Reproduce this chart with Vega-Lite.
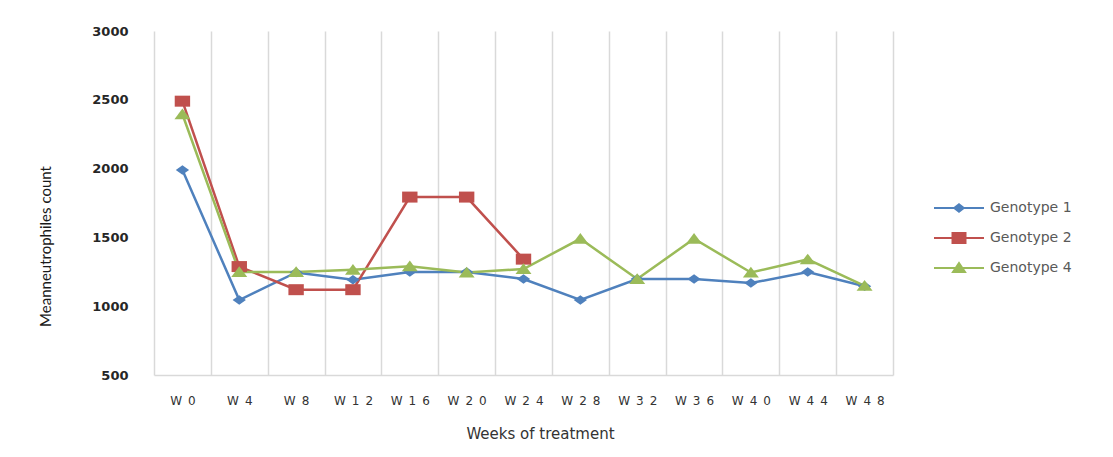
{
  "$schema": "https://vega.github.io/schema/vega-lite/v6.json",
  "width": 739,
  "height": 344,
  "autosize": {"type": "none"},
  "padding": {"left": 154, "top": 31, "right": 220, "bottom": 82},
  "background": "#ffffff",
  "config": {
    "view": {"stroke": null},
    "font": "DejaVu Sans"
  },
  "data": {
    "values": [
      {"week": "W0", "genotype": "Genotype 1", "count": 1990},
      {"week": "W4", "genotype": "Genotype 1", "count": 1045},
      {"week": "W8", "genotype": "Genotype 1", "count": 1245},
      {"week": "W12", "genotype": "Genotype 1", "count": 1192},
      {"week": "W16", "genotype": "Genotype 1", "count": 1248},
      {"week": "W20", "genotype": "Genotype 1", "count": 1248},
      {"week": "W24", "genotype": "Genotype 1", "count": 1198},
      {"week": "W28", "genotype": "Genotype 1", "count": 1045},
      {"week": "W32", "genotype": "Genotype 1", "count": 1198},
      {"week": "W36", "genotype": "Genotype 1", "count": 1198},
      {"week": "W40", "genotype": "Genotype 1", "count": 1168},
      {"week": "W44", "genotype": "Genotype 1", "count": 1248},
      {"week": "W48", "genotype": "Genotype 1", "count": 1145},
      {"week": "W0", "genotype": "Genotype 2", "count": 2490},
      {"week": "W4", "genotype": "Genotype 2", "count": 1288},
      {"week": "W8", "genotype": "Genotype 2", "count": 1120},
      {"week": "W12", "genotype": "Genotype 2", "count": 1120},
      {"week": "W16", "genotype": "Genotype 2", "count": 1793},
      {"week": "W20", "genotype": "Genotype 2", "count": 1793},
      {"week": "W24", "genotype": "Genotype 2", "count": 1342},
      {"week": "W0", "genotype": "Genotype 4", "count": 2395},
      {"week": "W4", "genotype": "Genotype 4", "count": 1248},
      {"week": "W8", "genotype": "Genotype 4", "count": 1248},
      {"week": "W12", "genotype": "Genotype 4", "count": 1265},
      {"week": "W16", "genotype": "Genotype 4", "count": 1290},
      {"week": "W20", "genotype": "Genotype 4", "count": 1245},
      {"week": "W24", "genotype": "Genotype 4", "count": 1270},
      {"week": "W28", "genotype": "Genotype 4", "count": 1490},
      {"week": "W32", "genotype": "Genotype 4", "count": 1198},
      {"week": "W36", "genotype": "Genotype 4", "count": 1490},
      {"week": "W40", "genotype": "Genotype 4", "count": 1245},
      {"week": "W44", "genotype": "Genotype 4", "count": 1340},
      {"week": "W48", "genotype": "Genotype 4", "count": 1148}
    ]
  },
  "encoding": {
    "x": {
      "field": "week",
      "type": "nominal",
      "sort": ["W0","W4","W8","W12","W16","W20","W24","W28","W32","W36","W40","W44","W48"],
      "scale": {"type": "band", "paddingInner": 0, "paddingOuter": 0},
      "axis": {
        "title": "Weeks of treatment",
        "labelAngle": 0,
        "tickBand": "extent",
        "ticks": false,
        "grid": true,
        "gridColor": "#d9d9d9",
        "gridWidth": 1.5,
        "domainColor": "#d9d9d9",
        "domainWidth": 1.5,
        "labelExpr": "join(split(datum.label, ''), '\u2002')",
        "labelFont": "DejaVu Sans",
        "labelFontSize": 12,
        "labelColor": "#333333",
        "labelPadding": 20,
        "titleFont": "DejaVu Sans",
        "titleFontSize": 15,
        "titleFontWeight": "normal",
        "titleColor": "#333333",
        "titleX": 386,
        "titleY": 58,
        "titleAlign": "center",
        "titleBaseline": "middle"
      }
    },
    "y": {
      "field": "count",
      "type": "quantitative",
      "scale": {"domain": [500, 3000], "nice": false, "zero": false},
      "axis": {
        "title": "Meanneutrophiles count",
        "values": [500, 1000, 1500, 2000, 2500, 3000],
        "format": "d",
        "grid": false,
        "domain": false,
        "ticks": false,
        "labelPadding": 26,
        "labelFont": "DejaVu Sans",
        "labelFontSize": 13,
        "labelFontWeight": "bold",
        "labelColor": "#262626",
        "titleFont": "Lato",
        "titleFontSize": 15,
        "titleFontWeight": "normal",
        "titleColor": "#1a1a1a",
        "titleX": -109,
        "titleY": 215,
        "titleAlign": "center",
        "titleBaseline": "middle",
        "titleAngle": -90
      }
    },
    "color": {
      "field": "genotype",
      "type": "nominal",
      "scale": {
        "domain": ["Genotype 1", "Genotype 2", "Genotype 4"],
        "range": ["#4F81BD", "#C0504D", "#9BBB59"]
      },
      "legend": {
        "title": null,
        "orient": "none",
        "legendX": 779,
        "legendY": 163,
        "padding": 0,
        "symbolSize": 2500,
        "symbolStrokeWidth": 2,
        "symbolOpacity": 1,
        "symbolType": {"expr": "datum.value == 'Genotype 1' ? 'M-1,0H1M0,-0.15L0.19,0L0,0.15L-0.19,0Z' : datum.value == 'Genotype 2' ? 'M-1,0H1M-0.26,-0.2H0.26V0.2H-0.26Z' : 'M-1,0H1M0,-0.2L0.24,0.16L-0.24,0.16Z'"},
        "symbolFillColor": {"expr": "scale('color', datum.value)"},
        "clipHeight": 28,
        "rowPadding": 2,
        "labelOffset": 5,
        "labelFont": "DejaVu Sans",
        "labelFontSize": 14,
        "labelColor": "#595959"
      }
    }
  },
  "layer": [
    {
      "mark": {"type": "line", "strokeWidth": 2.5},
      "encoding": {}
    },
    {
      "transform": [{"filter": "datum.genotype == 'Genotype 1'"}],
      "mark": {"type": "point", "filled": true, "opacity": 1, "shape": "M0,-1L1.4,0L0,1L-1.4,0Z", "size": 90},
      "encoding": {}
    },
    {
      "transform": [{"filter": "datum.genotype == 'Genotype 2'"}],
      "mark": {"type": "point", "filled": true, "opacity": 1, "shape": "M-1.4,-1H1.4V1H-1.4Z", "size": 121},
      "encoding": {}
    },
    {
      "transform": [{"filter": "datum.genotype == 'Genotype 4'"}],
      "mark": {"type": "point", "filled": true, "opacity": 1, "shape": "M0,-1.05L1.45,0.9L-1.45,0.9Z", "size": 121},
      "encoding": {}
    }
  ]
}
